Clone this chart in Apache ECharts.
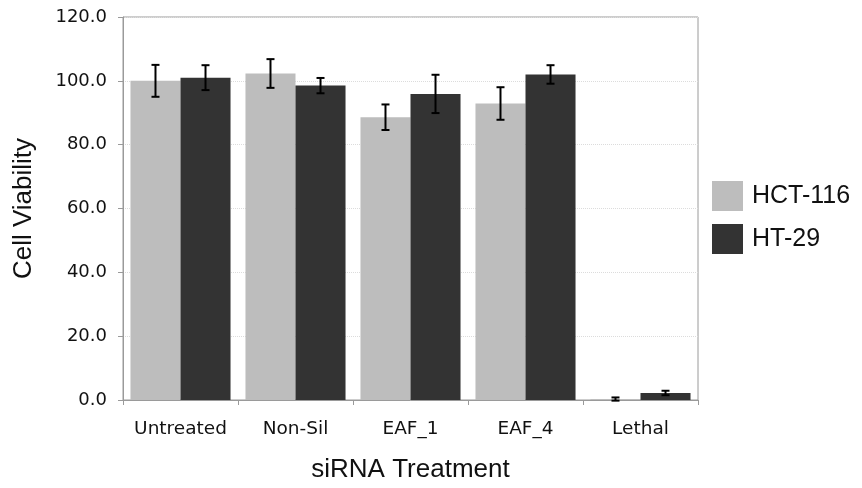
<!DOCTYPE html>
<html><head><meta charset="utf-8">
<script src="https://cdn.jsdelivr.net/npm/echarts@6/dist/echarts.min.js"></script>
<style>html,body{margin:0;padding:0;background:#fff}#c{width:862px;height:488px}</style>
</head><body><div id="c"></div>
<script>
const categories = ['Untreated', 'Non-Sil', 'EAF_1', 'EAF_4', 'Lethal'];
const seriesNames = ['HCT-116', 'HT-29'];
const hct116 = [100.0, 102.3, 88.6, 92.9, 0.3];
const hct116Err = [5.0, 4.5, 4.0, 5.1, 0.5];
const ht29 = [101.0, 98.5, 95.9, 102.0, 2.2];
const ht29Err = [3.9, 2.4, 6.0, 2.9, 0.7];
const yTicks = [0, 20, 40, 60, 80, 100, 120];

const colors = ['#bdbdbd', '#333333'];
const chart = echarts.init(document.getElementById('c'));

function errData(vals, errs) {
  return vals.map((v, i) => [i, v - errs[i], v + errs[i]]);
}
function errSeries(vals, errs, side) {
  return {
    type: 'custom',
    silent: true,
    z: 10,
    data: errData(vals, errs),
    encode: { x: 0, y: [1, 2] },
    renderItem: function (params, api) {
      const band = api.size([1, 0])[0];
      const barW = band * 0.87 / 2;
      const off = side * barW / 2;
      const lo = api.coord([api.value(0), api.value(1)]);
      const hi = api.coord([api.value(0), api.value(2)]);
      const x = lo[0] + off;
      const cw = 4;
      const st = { stroke: '#000', lineWidth: 2 };
      return {
        type: 'group',
        children: [
          { type: 'line', shape: { x1: x, y1: lo[1], x2: x, y2: hi[1] }, style: st },
          { type: 'line', shape: { x1: x - cw, y1: lo[1], x2: x + cw, y2: lo[1] }, style: st },
          { type: 'line', shape: { x1: x - cw, y1: hi[1], x2: x + cw, y2: hi[1] }, style: st }
        ]
      };
    }
  };
}

chart.setOption({
  animation: false,
  color: colors,
  grid: { left: 123, right: 164, top: 17, bottom: 86, show: true, borderColor: '#9a9a9a', borderWidth: 1 },
  legend: {
    data: seriesNames,
    orient: 'vertical',
    left: 707, top: 176,
    itemWidth: 31, itemHeight: 30, itemGap: 13,
    icon: 'rect',
    textStyle: { fontFamily: 'Liberation Sans', fontSize: 25, color: '#111', padding: [0, 0, 0, 4] }
  },
  xAxis: {
    type: 'category',
    data: categories,
    name: 'siRNA Treatment',
    nameLocation: 'middle',
    nameGap: 57,
    nameTextStyle: { fontFamily: 'Liberation Sans', fontSize: 26, color: '#111' },
    axisLine: { lineStyle: { color: '#9a9a9a', width: 1 } },
    axisTick: { show: true, interval: 0, length: 5, lineStyle: { color: '#9a9a9a' } },
    axisLabel: { interval: 0, hideOverlap: false, fontFamily: 'DejaVu Sans', fontSize: 18.5, color: '#111', margin: 20 }
  },
  yAxis: {
    type: 'value',
    min: 0, max: 120, interval: 20,
    name: 'Cell Viability',
    nameLocation: 'middle',
    nameRotate: 90,
    nameGap: 86,
    nameTextStyle: { fontFamily: 'Liberation Sans', fontSize: 26, color: '#111' },
    axisLine: { show: true, lineStyle: { color: '#9a9a9a', width: 1 } },
    axisTick: { show: true, length: 5, lineStyle: { color: '#9a9a9a' } },
    axisLabel: {
      fontFamily: 'DejaVu Sans', fontSize: 18, color: '#111', margin: 16,
      formatter: v => yTicks.includes(v) ? v.toFixed(1) : ''
    },
    splitLine: { show: true, lineStyle: { color: '#dcdcdc', type: 'dotted', width: 1 } }
  },
  series: [
    { name: seriesNames[0], type: 'bar', data: hct116, barGap: '0%', barCategoryGap: '13%', itemStyle: { color: colors[0] } },
    { name: seriesNames[1], type: 'bar', data: ht29, barGap: '0%', barCategoryGap: '13%', itemStyle: { color: colors[1] } },
    errSeries(hct116, hct116Err, -1),
    errSeries(ht29, ht29Err, 1)
  ]
});
</script>
</body></html>
